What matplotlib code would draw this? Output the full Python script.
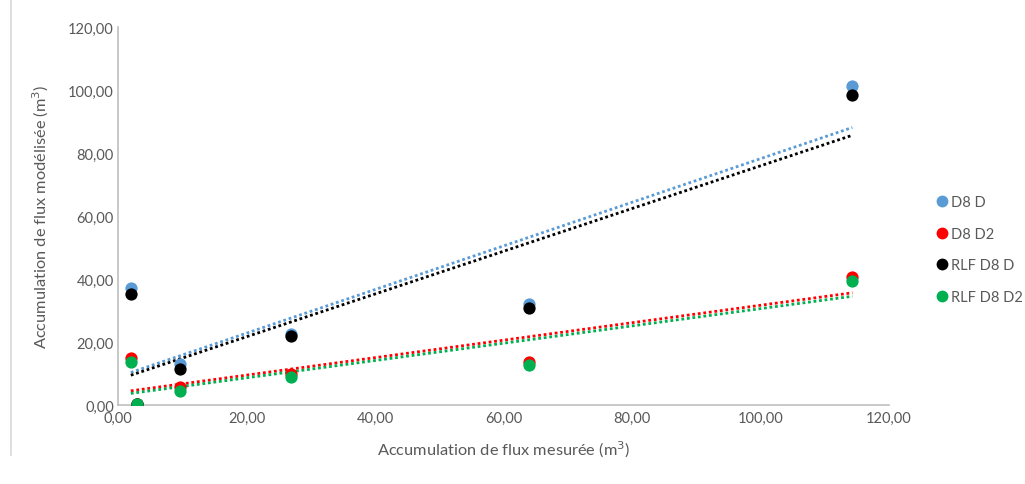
import numpy as np
import matplotlib
matplotlib.use("Agg")
import matplotlib.pyplot as plt
from matplotlib.ticker import FuncFormatter
from matplotlib.lines import Line2D

x_measured = [2.0, 3.0, 9.7, 27.0, 64.0, 114.3]
d8_d = [37.0, 0.2, 13.0, 22.5, 32.1, 101.2]
d8_d2 = [14.8, 0.2, 5.7, 9.8, 13.5, 40.6]
rlf_d8_d = [35.2, 0.2, 11.4, 21.8, 30.8, 98.4]
rlf_d8_d2 = [13.6, 0.2, 4.5, 8.8, 12.6, 39.5]

series_names = ["D8 D", "D8 D2", "RLF D8 D", "RLF D8 D2"]
series_values = [d8_d, d8_d2, rlf_d8_d, rlf_d8_d2]
series_colors = ["#5B9BD5", "#FF0000", "#000000", "#00B050"]

x_label = "Accumulation de flux mesurée (m$^3$)"
y_label = "Accumulation de flux modélisée (m$^3$)"

plt.rcParams['font.family'] = ['Lato', 'DejaVu Sans']
text_color = "#595959"

fig = plt.figure(figsize=(10.25, 4.85), dpi=100)
ax = fig.add_axes([0.1151, 0.1629, 0.8673 - 0.1151, 0.9423 - 0.1629])

xs = np.array(x_measured)
# trend lines
for vals, col in zip(series_values, series_colors):
    a, b = np.polyfit(xs, np.array(vals), 1)
    xl = np.array([xs.min(), xs.max()])
    ax.plot(xl, a * xl + b, linestyle=(0, (1, 1)), color=col, lw=2.0, zorder=2)

for name, vals, col in zip(series_names, series_values, series_colors):
    ax.scatter(xs, vals, s=78, color=col, zorder=3, label=name, linewidths=0)

ax.set_xlim(0, 120)
ax.set_ylim(0, 120)
ax.set_xticks(np.arange(0, 121, 20))
ax.set_yticks(np.arange(0, 121, 20))
fmt = FuncFormatter(lambda v, p: f"{v:.2f}".replace(".", ","))
ax.xaxis.set_major_formatter(fmt)
ax.yaxis.set_major_formatter(fmt)
ax.tick_params(length=0, labelsize=10.5, colors=text_color)
ax.tick_params(axis='x', pad=4)
ax.tick_params(axis='y', pad=3)
for s in ["top", "right"]:
    ax.spines[s].set_visible(False)
for s in ["left", "bottom"]:
    ax.spines[s].set_color("#BFBFBF")
    ax.spines[s].set_linewidth(1.2)
ax.spines["left"].set_zorder(1)
ax.spines["bottom"].set_zorder(1)

ax.set_xlabel(x_label, fontsize=11.8, color=text_color, labelpad=10)
ax.set_ylabel(y_label, fontsize=11.8, color=text_color, labelpad=12)

handles = [Line2D([0], [0], marker='o', linestyle='', markersize=8.5,
                  markerfacecolor=c, markeredgewidth=0) for c in series_colors]
leg = fig.legend(handles, series_names, loc="upper left",
                 bbox_to_anchor=(0.905, 0.607), frameon=False,
                 fontsize=10.5, labelspacing=1.2, handletextpad=0.0,
                 handlelength=1.2, borderaxespad=0)
for t in leg.get_texts():
    t.set_color(text_color)

# left border line of the image
fig.add_artist(Line2D([0.0105, 0.0105], [0.06, 1.0], transform=fig.transFigure,
                      color="#D9D9D9", lw=1.2))

fig.savefig("out.png", dpi=100)
